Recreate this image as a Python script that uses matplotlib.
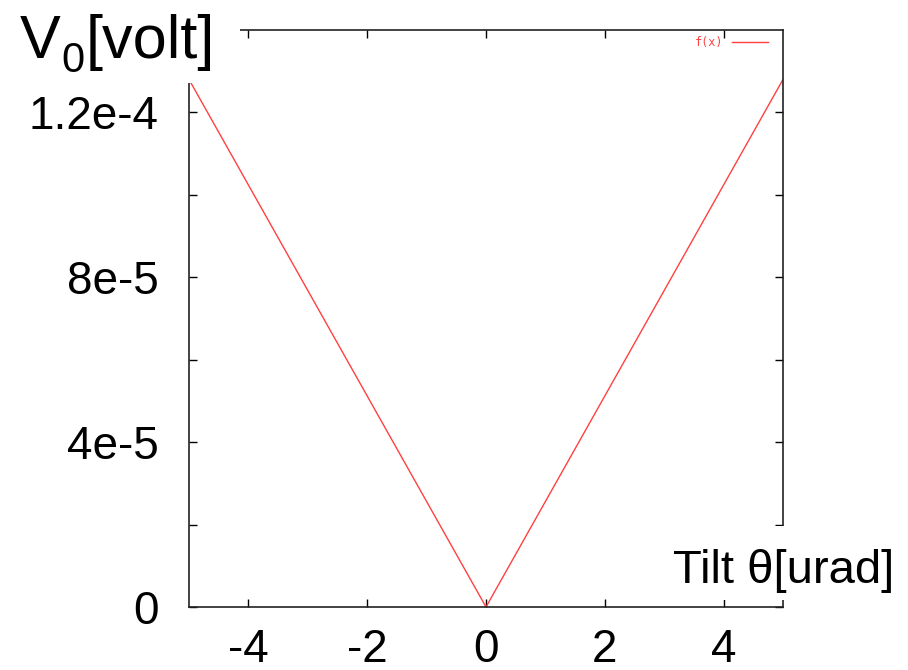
import numpy as np
import matplotlib
matplotlib.use('Agg')
import matplotlib.pyplot as plt
from matplotlib.patches import Rectangle

plt.rcParams['font.family'] = ['Liberation Sans', 'DejaVu Sans']

# data: V0 vs tilt, a V shape with its tip at 0
tilt = [-5, 0, 5]
v0 = [1.28e-4, 0.0, 1.28e-4]

x_ticks = [-4, -2, 0, 2, 4]
x_labels = ['-4', '-2', '0', '2', '4']
y_ticks = [0, 2e-5, 4e-5, 6e-5, 8e-5, 1e-4, 1.2e-4]
y_labels = ['0', '', '4e-5', '', '8e-5', '', '1.2e-4']

W, H = 908, 670
fig = plt.figure(figsize=(W/100, H/100), dpi=100)
ax = fig.add_axes([189/W, 1 - 607/H, (783-189)/W, (607-30)/H])

ax.plot(tilt, v0, color='#ff4040', lw=1.0, label='f(x)')

ax.set_xlim(-5, 5)
ax.set_ylim(0, 1.4e-4)
ax.set_xticks(x_ticks)
ax.set_xticklabels(x_labels)
ax.set_yticks(y_ticks)
ax.set_yticklabels(y_labels)
ax.tick_params(direction='in', length=6, width=1, top=True, right=True,
               labelsize=33)
ax.tick_params(axis='x', pad=15)
ax.tick_params(axis='y', pad=22)
for s in ax.spines.values():
    s.set_linewidth(1.2)
    s.set_color('#222222')

leg = ax.legend(loc='upper right', bbox_to_anchor=(0.9747, 0.9896),
                frameon=False, markerfirst=False, handlelength=3.05,
                handletextpad=0.7, borderaxespad=0, borderpad=0,
                prop={'family': 'DejaVu Sans Mono', 'size': 8.5})
for t in leg.get_texts():
    t.set_color('#ff4040')

# white patches behind the axis titles, as in the original
fig.add_artist(Rectangle((0, 1 - 83/H), 240/W, 83/H, transform=fig.transFigure,
                         fc='white', ec='none', zorder=5))
fig.add_artist(Rectangle((655/W, 1 - 600/H), 253/W, 74/H, transform=fig.transFigure,
                         fc='white', ec='none', zorder=5))

# y title "V0[volt]" built from pieces so the subscript sits low
r = fig.canvas.get_renderer()
t_v = fig.text(20/W, 1 - 58/H, 'V', fontsize=44, va='baseline', ha='left', zorder=6)
x1 = t_v.get_window_extent(r).x1 + 1
t_0 = fig.text(x1/W, 1 - 72/H, '0', fontsize=30, va='baseline', ha='left', zorder=6)
x2 = t_0.get_window_extent(r).x1 + 1
fig.text(x2/W, 1 - 58/H, '[volt]', fontsize=44, va='baseline', ha='left', zorder=6)

fig.text(673/W, 1 - 583/H, 'Tilt θ[urad]', fontsize=34,
         va='baseline', ha='left', zorder=6)

fig.savefig('out.png', dpi=100)
